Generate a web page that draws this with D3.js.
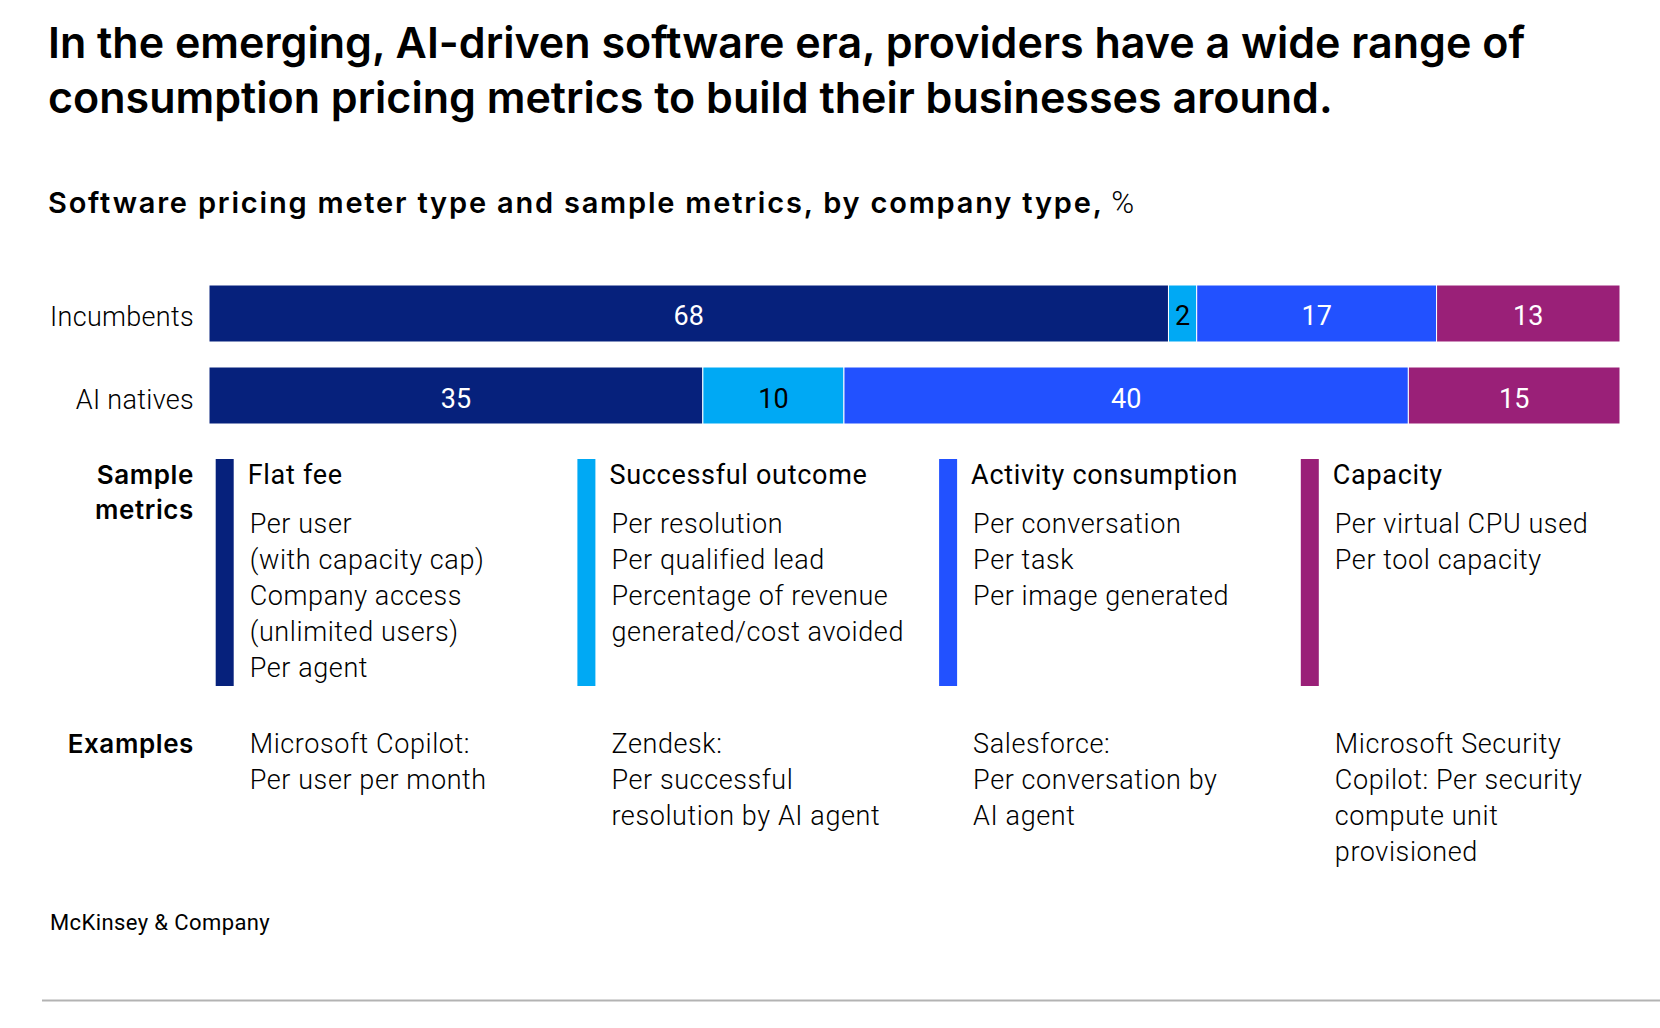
<!DOCTYPE html>
<html>
<head>
<meta charset="utf-8">
<script src="https://cdn.jsdelivr.net/npm/d3@7"></script>
<style>
  html, body { margin: 0; padding: 0; background: #fff; }
  svg { display: block; }
</style>
</head>
<body>
<div id="chart"></div>
<script>
// chart data
var companies = ["Incumbents", "AI natives"];
var meterTypes = ["Flat fee", "Successful outcome", "Activity consumption", "Capacity"];
var incumbentsShare = [68, 2, 17, 13];
var aiNativesShare = [35, 10, 40, 15];
var meterColors = ["#06217c", "#00a9f4", "#2251ff", "#9a2078"];
var labelColors = ["#ffffff", "#000000", "#ffffff", "#ffffff"];
var sampleMetrics = [
    ["Per user", "(with capacity cap)", "Company access", "(unlimited users)", "Per agent"],
    ["Per resolution", "Per qualified lead", "Percentage of revenue", "generated/cost avoided"],
    ["Per conversation", "Per task", "Per image generated"],
    ["Per virtual CPU used", "Per tool capacity"]
];
var examples = [
    ["Microsoft Copilot:", "Per user per month"],
    ["Zendesk:", "Per successful", "resolution by AI agent"],
    ["Salesforce:", "Per conversation by", "AI agent"],
    ["Microsoft Security", "Copilot: Per security", "compute unit", "provisioned"]
];
var titleLines = [
    "In the emerging, AI-driven software era, providers have a wide range of",
    "consumption pricing metrics to build their businesses around."
];

var svgWidth = 1660;
var svgHeight = 1028;
var headFont = "Inter, 'Noto Sans', 'DejaVu Sans', sans-serif";
var bodyFont = "Roboto, 'Liberation Sans', sans-serif";

var svg = d3.select("#chart")
    .append("svg")
    .attr("width", svgWidth)
    .attr("height", svgHeight);

// title + subtitle
svg.append("g").selectAll("text")
    .data(titleLines)
    .enter()
    .append("text")
    .attr("x", 48)
    .attr("y", (d, i) => 58 + i * 55)
    .attr("font-family", headFont)
    .attr("font-weight", 600)
    .attr("font-size", "43px")
    .attr("fill", "#000")
    .text(d => d);

var sub = svg.append("text")
    .attr("x", 48)
    .attr("y", 213)
    .attr("font-family", headFont)
    .attr("font-size", "29px")
    .attr("fill", "#000");
sub.append("tspan").attr("font-weight", 600).attr("letter-spacing", "1.8px")
    .text("Software pricing meter type and sample metrics, by company type,");
sub.append("tspan").attr("font-family", bodyFont).attr("font-weight", 300)
    .attr("font-size", "31px").text(" %");

// stacked bars
var xscale = d3.scaleLinear().domain([0, 100]).range([209, 1620]);
var yscale = d3.scaleBand().domain(companies).range([285, 424]).paddingInner(0.305);

var rows = [incumbentsShare, aiNativesShare].map(function(vals, r) {
    var start = 0;
    return vals.map(function(v, i) {
        var seg = {company: companies[r], type: i, value: v, x0: start, x1: start + v};
        start += v;
        return seg;
    });
});
var segments = rows[0].concat(rows[1]);

var barGroup = svg.append("g");
barGroup.selectAll("rect")
    .data(segments)
    .enter()
    .append("rect")
    .attr("x", d => xscale(d.x0))
    .attr("y", d => yscale(d.company))
    .attr("width", d => xscale(d.x1) - xscale(d.x0))
    .attr("height", yscale.bandwidth())
    .attr("fill", d => meterColors[d.type])
    .attr("stroke", "#fff")
    .attr("stroke-width", 1);

barGroup.selectAll("text")
    .data(segments)
    .enter()
    .append("text")
    .attr("x", d => (xscale(d.x0) + xscale(d.x1)) / 2)
    .attr("y", d => yscale(d.company) + yscale.bandwidth() / 2 + 12)
    .attr("text-anchor", "middle")
    .attr("font-family", bodyFont)
    .attr("font-size", "27px")
    .attr("fill", d => labelColors[d.type])
    .text(d => d.value);

svg.append("g").selectAll("text")
    .data(companies)
    .enter()
    .append("text")
    .attr("x", 194)
    .attr("y", d => yscale(d) + yscale.bandwidth() / 2 + 13)
    .attr("text-anchor", "end")
    .attr("font-family", bodyFont)
    .attr("font-weight", 300)
    .attr("font-size", "27px")
    .attr("letter-spacing", "0.3px")
    .attr("fill", "#000")
    .text(d => d);

// sample metrics and examples columns
var colX = d3.scaleBand().domain(meterTypes).range([215.7, 215.7 + 4 * 361.7]);
var lineStep = 36;

var sideLabels = [
    {lines: ["Sample", "metrics"], y: 484},
    {lines: ["Examples"], y: 753}
];
sideLabels.forEach(function(s) {
    svg.append("text")
        .attr("text-anchor", "end")
        .attr("font-family", headFont)
        .attr("font-weight", 600)
        .attr("font-size", "26px")
        .attr("letter-spacing", "0.6px")
        .attr("fill", "#000")
        .selectAll("tspan")
        .data(s.lines)
        .enter()
        .append("tspan")
        .attr("x", 194)
        .attr("y", (d, i) => s.y + i * 35)
        .text(d => d);
});

var cols = svg.append("g").selectAll("g")
    .data(meterTypes)
    .enter()
    .append("g")
    .attr("transform", d => `translate(${colX(d)},0)`);

cols.append("rect")
    .attr("x", 0)
    .attr("y", 459)
    .attr("width", 18)
    .attr("height", 227)
    .attr("fill", (d, i) => meterColors[i]);

cols.append("text")
    .attr("x", 32)
    .attr("y", 484)
    .attr("font-family", bodyFont)
    .attr("font-weight", 400)
    .attr("font-size", "27px")
    .attr("letter-spacing", "0.7px")
    .attr("fill", "#000")
    .text(d => d);

cols.each(function(d, i) {
    var g = d3.select(this);
    g.append("text")
        .attr("font-family", bodyFont)
        .attr("font-weight", 300)
        .attr("font-size", "27px")
        .attr("letter-spacing", "0.6px")
        .attr("fill", "#000")
        .selectAll("tspan")
        .data(sampleMetrics[i])
        .enter()
        .append("tspan")
        .attr("x", 34)
        .attr("y", (t, j) => 533 + j * lineStep)
        .text(t => t);

    g.append("text")
        .attr("font-family", bodyFont)
        .attr("font-weight", 300)
        .attr("font-size", "27px")
        .attr("letter-spacing", "0.6px")
        .attr("fill", "#000")
        .selectAll("tspan")
        .data(examples[i])
        .enter()
        .append("tspan")
        .attr("x", 34)
        .attr("y", (t, j) => 753 + j * lineStep)
        .text(t => t);
});

// footer
svg.append("text")
    .attr("x", 50)
    .attr("y", 930)
    .attr("font-family", bodyFont)
    .attr("font-size", "22px")
    .attr("letter-spacing", "0.4px")
    .attr("fill", "#000")
    .text("McKinsey & Company");

svg.append("line")
    .attr("x1", 42)
    .attr("x2", svgWidth)
    .attr("y1", 1000.5)
    .attr("y2", 1000.5)
    .attr("stroke", "#b3b3b3")
    .attr("stroke-width", 2);
</script>
</body>
</html>
